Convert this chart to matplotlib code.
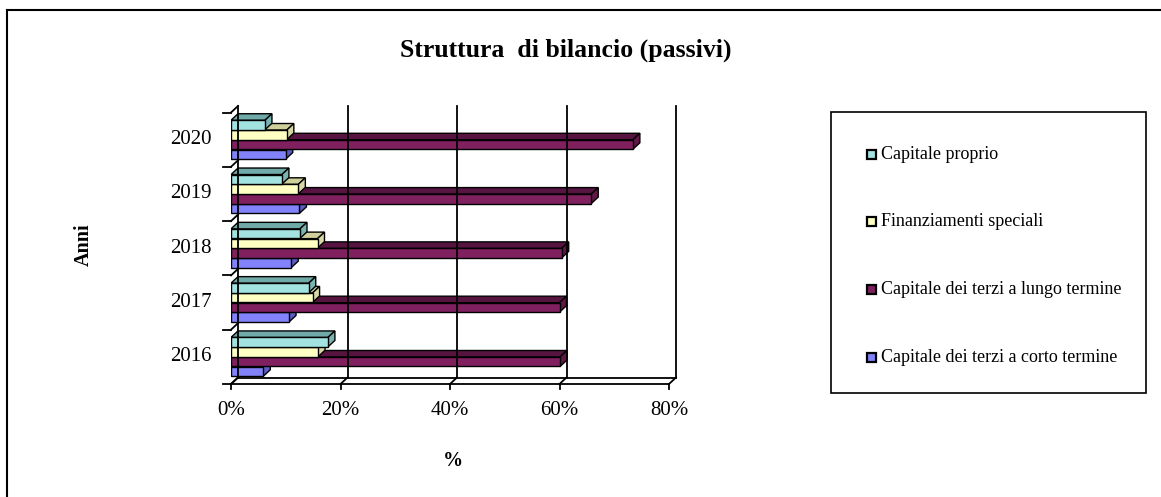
import matplotlib
matplotlib.use('Agg')
import matplotlib.pyplot as plt
from matplotlib.patches import Polygon, Rectangle

years = ['2016', '2017', '2018', '2019', '2020']
capitale_proprio = [17.7, 14.2, 12.6, 9.3, 6.2]
finanziamenti_speciali = [15.9, 14.9, 15.8, 12.3, 10.2]
terzi_lungo = [60.1, 60.0, 60.4, 65.8, 73.4]
terzi_corto = [5.9, 10.6, 11.0, 12.5, 10.0]

series_names = ['Capitale proprio', 'Finanziamenti speciali',
                'Capitale dei terzi a lungo termine', 'Capitale dei terzi a corto termine']
xticks = [0, 20, 40, 60, 80]

# front / top / side colours for each series
colors = {
    'Capitale proprio': ('#a2e2e0', '#6fa9a8', '#78b4b2'),
    'Finanziamenti speciali': ('#ffffc4', '#cfcf9c', '#d8d8a6'),
    'Capitale dei terzi a lungo termine': ('#80205f', '#571441', '#621749'),
    'Capitale dei terzi a corto termine': ('#8282fa', '#5656b8', '#5c5cc2'),
}

plt.rcParams['font.family'] = ['Liberation Serif', 'DejaVu Serif']

fig = plt.figure(figsize=(11.61, 4.97), dpi=100)
W, H = 1161, 497
px = 5.475      # pixels per percent
py = 54.3       # pixels per category
dx = 7.0 / px   # depth offset in %
dy = 6.5 / py   # depth offset in category units
ytop = 4.62

ax = fig.add_axes([231 / W, (H - 384) / H, 82 * px / W, (ytop + 0.5) * py / H])
ax.set_xlim(0, 82)
ax.set_ylim(-0.5, ytop)
ax.axis('off')

lk = dict(color='black', lw=1.3, clip_on=False)

# walls, floor and gridlines
ax.plot([dx, 80 + dx], [-0.5 + dy, -0.5 + dy], **lk)
ax.plot([0, 80], [-0.5, -0.5], **lk)
ax.plot([dx, dx], [-0.5 + dy, ytop], **lk)
for x in xticks:
    ax.plot([x, x + dx], [-0.5, -0.5 + dy], **lk)
    ax.plot([x, x], [-0.5, -0.5 - 0.1], **lk)
    if x > 0:
        ax.plot([x + dx, x + dx], [-0.5 + dy, ytop], **lk)
    ax.text(x, -0.5 - 0.48, f'{x}%', ha='center', va='center', fontsize=15)
for i in range(len(years) + 1):
    b = i - 0.5
    ax.plot([-1.5, 0], [b, b], **lk)
    ax.plot([0, dx], [b, b + dy], **lk)
for i, yr in enumerate(years):
    ax.text(-3.5, i, yr, ha='right', va='center', fontsize=15)

# bars, drawn bottom to top so upper bars hide lower top faces
data = {
    'Capitale proprio': capitale_proprio,
    'Finanziamenti speciali': finanziamenti_speciali,
    'Capitale dei terzi a lungo termine': terzi_lungo,
    'Capitale dei terzi a corto termine': terzi_corto,
}
offsets = [0.27, 0.09, -0.09, -0.27]
h = 0.175
for i in range(len(years)):
    for j in [3, 2, 1, 0]:
        name = series_names[j]
        v = data[name][i]
        front, top, side = colors[name]
        y0 = i + offsets[j] - h / 2
        y1 = y0 + h
        ax.add_patch(Polygon([(0, y1), (v, y1), (v + dx, y1 + dy), (dx, y1 + dy)],
                             closed=True, fc=top, ec='black', lw=1.0))
        ax.add_patch(Polygon([(v, y0), (v + dx, y0 + dy), (v + dx, y1 + dy), (v, y1)],
                             closed=True, fc=side, ec='black', lw=1.0))
        ax.add_patch(Rectangle((0, y0), v, h, fc=front, ec='black', lw=1.0))

# titles
fig.text(566 / W, 1 - 50 / H, 'Struttura  di bilancio (passivi)', ha='center', va='center',
         fontsize=18.5, fontweight='bold')
fig.text(84 / W, 1 - 245 / H, 'Anni', ha='center', va='center', rotation=90,
         fontsize=14.5, fontweight='bold')
fig.text(453 / W, 1 - 461 / H, '%', ha='center', va='center', fontsize=14.5, fontweight='bold')

# legend box
fig.patches.append(Rectangle((831 / W, 1 - 393 / H), 315 / W, 281 / H, transform=fig.transFigure,
                             fill=False, ec='black', lw=1.2))
for k, name in enumerate(series_names):
    yc = 1 - [155, 221, 289, 357][k] / H
    fig.patches.append(Rectangle((867 / W, yc - 4.5 / H), 9 / W, 9 / H, transform=fig.transFigure,
                                 fc=colors[name][0], ec='black', lw=1.6))
    fig.text(881 / W, yc, name, ha='left', va='center', fontsize=13)

# outer frame
fig.add_artist(plt.Line2D([7 / W, 1], [1 - 10 / H, 1 - 10 / H], transform=fig.transFigure,
                          color='black', lw=1.5))
fig.add_artist(plt.Line2D([7 / W, 7 / W], [0, 1 - 10 / H], transform=fig.transFigure,
                          color='black', lw=1.5))

fig.savefig('out.png', dpi=100)
